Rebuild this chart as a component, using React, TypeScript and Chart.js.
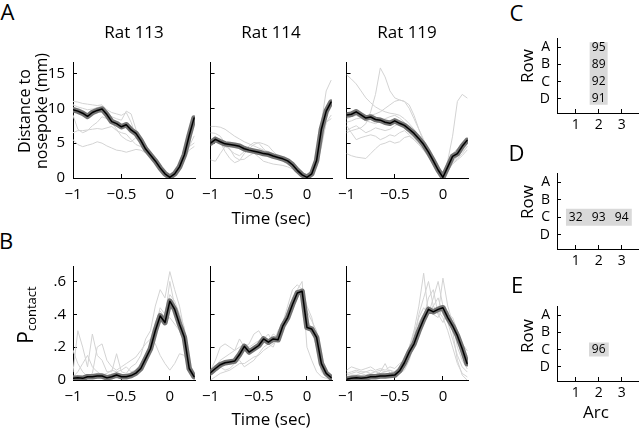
import React, { useEffect, useRef } from "react";
import { Chart, registerables } from "chart.js";

Chart.register(...registerables);

const FONT = "'Open Sans', 'DejaVu Sans', sans-serif";

// ---------- data ----------
const time = [-1, -0.95, -0.9, -0.85, -0.8, -0.75, -0.7, -0.65, -0.6, -0.55, -0.5, -0.45, -0.4, -0.35, -0.3, -0.25, -0.2, -0.15, -0.1, -0.05, 0, 0.05, 0.1, 0.15, 0.2, 0.25];
const timeTicks = [-1, -0.5, 0];
const distTicks = [0, 5, 10, 15];
const probTicks = [0, 0.2, 0.4, 0.6];
const ratNames = ["Rat 113", "Rat 114", "Rat 119"];

const distMean113 = [9.8, 9.6, 9.3, 8.85, 9.4, 9.7, 9.9, 9.1, 8.1, 7.8, 7.35, 7.65, 6.9, 6.4, 5.4, 4.15, 3.3, 2.45, 1.45, 0.6, 0.1, 0.6, 1.6, 3.3, 6.1, 8.6];
const distTrials113 = [
  [11, 10.9, 10.7, 10.6, 10.5, 10.4, 10.5, 9.8, 9.4, 9.2, 9.0, 9.4, 8.0, 6.0, 5.0, 4.2, 3.3, 2.4, 1.5, 0.6, 0.1, 0.6, 1.8, 3.5, 5.5, 8.0],
  [6.5, 6.8, 6.8, 6.9, 7.0, 7.1, 7.0, 7.2, 7.4, 6.8, 6.5, 6.3, 5.5, 4.8, 4.5, 3.8, 3.0, 2.2, 1.3, 0.5, 0.1, 0.7, 1.8, 3.2, 4.5, 5.0],
  [5.5, 4.8, 4.5, 4.7, 4.9, 5.2, 5.0, 4.6, 4.3, 4.0, 3.9, 3.7, 3.9, 4.1, 4.0, 3.6, 3.0, 2.3, 1.4, 0.6, 0.1, 0.6, 1.5, 2.8, 4.0, 4.5],
  [9.0, 7.0, 6.5, 6.8, 7.5, 8.0, 8.8, 8.5, 8.0, 7.0, 6.0, 5.5, 5.2, 5.8, 5.0, 4.0, 3.1, 2.3, 1.4, 0.6, 0.1, 0.8, 2.2, 4.2, 6.5, 8.8],
  [10.5, 10.2, 10.0, 9.8, 9.9, 10.1, 10.3, 9.5, 8.8, 8.5, 8.3, 9.6, 9.2, 7.0, 5.8, 4.5, 3.5, 2.5, 1.5, 0.6, 0.1, 0.5, 1.4, 2.8, 4.5, 6.0],
];

const distMean114 = [5.0, 5.55, 5.2, 4.9, 4.8, 4.7, 4.55, 4.2, 4.0, 3.85, 3.7, 3.5, 3.4, 3.15, 2.95, 2.75, 2.45, 1.9, 1.1, 0.45, 0.1, 0.6, 2.5, 7.0, 9.6, 10.9];
const distTrials114 = [
  [7.4, 7.4, 7.3, 7.0, 6.5, 6.0, 5.6, 5.2, 4.9, 4.6, 4.3, 4.0, 3.8, 3.5, 3.2, 2.9, 2.6, 2.0, 1.2, 0.5, 0.1, 0.8, 3.0, 8.0, 12.5, 14.0],
  [6.5, 6.4, 6.0, 5.0, 4.0, 3.5, 3.2, 3.8, 4.6, 5.1, 5.0, 4.2, 3.5, 3.0, 2.8, 2.4, 2.0, 1.5, 0.9, 0.4, 0.1, 0.6, 2.0, 5.0, 8.0, 9.0],
  [2.6, 2.4, 3.5, 4.5, 4.2, 3.0, 2.6, 2.7, 3.2, 3.6, 3.0, 2.4, 2.2, 2.0, 1.9, 1.8, 1.6, 1.3, 0.8, 0.3, 0.1, 0.5, 1.6, 4.5, 8.0, 8.5],
  [5.5, 6.0, 5.2, 3.8, 2.8, 2.2, 2.5, 3.5, 4.2, 4.8, 5.1, 4.9, 4.6, 3.8, 3.2, 2.6, 2.0, 1.5, 0.9, 0.4, 0.1, 0.8, 2.4, 6.0, 9.5, 10.5],
];

const distMean119 = [9.05, 9.15, 9.5, 9.05, 8.6, 8.75, 8.4, 8.3, 8.0, 7.85, 8.2, 7.85, 7.55, 7.0, 6.4, 5.65, 4.8, 3.7, 2.45, 1.15, 0.1, 1.6, 3.1, 3.5, 4.55, 5.4];
const distTrials119 = [
  [6.5, 6.8, 7.0, 7.2, 7.8, 9.5, 12.0, 15.8, 14.5, 12.5, 11.5, 11.2, 11.0, 10.5, 9.0, 7.0, 5.2, 3.8, 2.4, 1.1, 0.1, 1.5, 3.0, 3.5, 4.5, 5.5],
  [14.8, 14.2, 13.5, 12.5, 11.5, 10.8, 10.2, 9.8, 9.5, 9.3, 9.2, 9.0, 8.5, 7.8, 7.0, 6.0, 4.9, 3.8, 2.6, 1.2, 0.1, 2.5, 6.0, 11.0, 12.0, 11.5],
  [3.5, 3.2, 3.0, 2.9, 2.8, 3.5, 4.2, 4.8, 5.0, 5.3, 5.0, 5.2, 5.8, 6.0, 5.5, 4.8, 4.0, 3.2, 2.2, 1.0, 0.1, 1.2, 2.5, 3.0, 3.8, 4.5],
  [8.0, 8.2, 8.5, 8.6, 8.8, 9.0, 9.2, 9.5, 10.0, 10.5, 11.0, 11.2, 11.0, 10.0, 8.5, 7.0, 5.5, 4.0, 2.6, 1.2, 0.1, 1.0, 2.2, 2.8, 3.5, 4.5],
  [6.8, 7.2, 7.5, 7.0, 6.5, 6.8, 7.2, 7.0, 6.8, 7.0, 7.5, 7.8, 7.2, 6.5, 5.8, 5.0, 4.2, 3.3, 2.2, 1.0, 0.1, 1.8, 3.5, 4.2, 4.8, 5.5],
  [7.5, 6.5, 5.5, 5.8, 6.0, 6.2, 6.0, 5.5, 5.8, 6.2, 6.0, 6.5, 6.8, 6.2, 5.5, 4.8, 4.0, 3.0, 2.0, 0.9, 0.1, 1.0, 2.0, 2.6, 3.2, 4.0],
  [8.5, 8.8, 9.0, 8.6, 8.2, 8.0, 7.8, 8.2, 8.5, 8.8, 9.0, 8.6, 8.0, 7.2, 6.5, 5.8, 5.0, 3.8, 2.5, 1.2, 0.1, 1.5, 3.0, 3.8, 4.5, 5.0],
];

const probMean113 = [0.01, 0.013, 0.01, 0.02, 0.02, 0.024, 0.024, 0.013, 0.02, 0.03, 0.02, 0.02, 0.027, 0.042, 0.07, 0.13, 0.19, 0.3, 0.39, 0.35, 0.48, 0.43, 0.34, 0.26, 0.07, 0.02];
const probTrials113 = [
  [0.05, 0.3, 0.2, 0.08, 0.28, 0.15, 0.12, 0.05, 0.05, 0.16, 0.05, 0.04, 0.08, 0.1, 0.15, 0.25, 0.3, 0.45, 0.55, 0.5, 0.66, 0.55, 0.45, 0.3, 0.1, 0.03],
  [0.18, 0.1, 0.05, 0.02, 0.04, 0.2, 0.22, 0.12, 0.08, 0.06, 0.08, 0.1, 0.12, 0.14, 0.18, 0.22, 0.25, 0.22, 0.15, 0.1, 0.06, 0.1, 0.16, 0.15, 0.08, 0.03],
  [0.02, 0.05, 0.1, 0.15, 0.08, 0.05, 0.03, 0.04, 0.06, 0.05, 0.06, 0.08, 0.05, 0.06, 0.1, 0.15, 0.22, 0.3, 0.38, 0.36, 0.38, 0.34, 0.3, 0.22, 0.08, 0.02],
  [0.01, 0.02, 0.01, 0.03, 0.02, 0.02, 0.03, 0.02, 0.03, 0.04, 0.02, 0.03, 0.02, 0.05, 0.08, 0.14, 0.22, 0.32, 0.44, 0.4, 0.52, 0.48, 0.4, 0.32, 0.08, 0.02],
  [0.0, 0.01, 0.02, 0.01, 0.02, 0.03, 0.02, 0.02, 0.03, 0.02, 0.03, 0.02, 0.04, 0.05, 0.06, 0.12, 0.2, 0.35, 0.42, 0.38, 0.6, 0.45, 0.38, 0.25, 0.05, 0.01],
];

const probMean114 = [0.045, 0.07, 0.093, 0.105, 0.11, 0.115, 0.155, 0.205, 0.17, 0.19, 0.21, 0.25, 0.23, 0.25, 0.245, 0.33, 0.38, 0.46, 0.53, 0.54, 0.32, 0.31, 0.26, 0.1, 0.04, 0.015];
const probTrials114 = [
  [0.06, 0.12, 0.2, 0.22, 0.2, 0.18, 0.25, 0.2, 0.22, 0.28, 0.3, 0.25, 0.28, 0.22, 0.3, 0.35, 0.45, 0.55, 0.58, 0.55, 0.38, 0.3, 0.2, 0.05, 0.02, 0.01],
  [0.0, 0.02, 0.04, 0.05, 0.06, 0.08, 0.1, 0.1, 0.12, 0.14, 0.15, 0.18, 0.2, 0.22, 0.25, 0.3, 0.38, 0.45, 0.52, 0.55, 0.45, 0.38, 0.25, 0.08, 0.02, 0.01],
  [0.03, 0.05, 0.08, 0.06, 0.07, 0.1, 0.12, 0.08, 0.1, 0.12, 0.16, 0.2, 0.22, 0.2, 0.28, 0.34, 0.42, 0.5, 0.55, 0.6, 0.2, 0.12, 0.05, 0.02, 0.01, 0.0],
  [0.05, 0.08, 0.12, 0.14, 0.16, 0.18, 0.2, 0.22, 0.2, 0.22, 0.24, 0.26, 0.24, 0.28, 0.26, 0.32, 0.38, 0.45, 0.5, 0.56, 0.42, 0.36, 0.3, 0.1, 0.03, 0.01],
];

const probMean119 = [0.005, 0.01, 0.013, 0.01, 0.013, 0.02, 0.02, 0.024, 0.024, 0.027, 0.03, 0.056, 0.105, 0.17, 0.22, 0.3, 0.37, 0.43, 0.415, 0.43, 0.44, 0.38, 0.33, 0.27, 0.19, 0.1];
const probTrials119 = [
  [0.02, 0.03, 0.03, 0.04, 0.03, 0.04, 0.03, 0.05, 0.1, 0.04, 0.05, 0.06, 0.12, 0.2, 0.3, 0.45, 0.65, 0.4, 0.5, 0.6, 0.45, 0.35, 0.25, 0.15, 0.08, 0.05],
  [0.04, 0.05, 0.06, 0.05, 0.05, 0.04, 0.05, 0.04, 0.05, 0.06, 0.05, 0.04, 0.08, 0.15, 0.25, 0.4, 0.5, 0.6, 0.45, 0.4, 0.62, 0.45, 0.35, 0.2, 0.12, 0.07],
  [0.0, 0.01, 0.0, 0.01, 0.02, 0.01, 0.02, 0.03, 0.02, 0.03, 0.05, 0.08, 0.1, 0.18, 0.3, 0.35, 0.4, 0.42, 0.45, 0.5, 0.4, 0.35, 0.3, 0.28, 0.2, 0.15],
  [0.06, 0.08, 0.07, 0.06, 0.07, 0.08, 0.06, 0.07, 0.06, 0.08, 0.07, 0.1, 0.12, 0.2, 0.28, 0.38, 0.44, 0.4, 0.45, 0.42, 0.38, 0.3, 0.2, 0.1, 0.04, 0.02],
  [0.01, 0.02, 0.02, 0.01, 0.02, 0.03, 0.02, 0.02, 0.03, 0.02, 0.03, 0.04, 0.06, 0.12, 0.22, 0.3, 0.38, 0.5, 0.55, 0.4, 0.35, 0.42, 0.3, 0.12, 0.03, 0.0],
  [0.03, 0.04, 0.05, 0.04, 0.05, 0.06, 0.05, 0.06, 0.05, 0.06, 0.04, 0.05, 0.08, 0.14, 0.2, 0.32, 0.4, 0.45, 0.4, 0.38, 0.44, 0.4, 0.38, 0.3, 0.22, 0.18],
];

const rowLabels = ["A", "B", "C", "D"];
const rowTicks = [1, 2, 3, 4];
const arcTicks = [1, 2, 3];

const cArcs = [2, 2, 2, 2];
const cRows = ["A", "B", "C", "D"];
const cValues = [95, 89, 92, 91];

const dArcs = [1, 2, 3];
const dRows = ["C", "C", "C"];
const dValues = [32, 93, 94];

const eArcs = [2];
const eRows = ["C"];
const eValues = [96];

// ---------- helpers ----------
const pts = (ys: number[]) => ys.map((y, i) => ({ x: time[i], y }));
const fmtTime = (v: number) => (v < 0 ? "\u2212" + String(Math.abs(v)) : String(v));
const fmtDist = (v: number) => String(v);
const fmtProb = (v: number) => (v === 0 ? "0" : String(v).replace(/^0\./, "."));

const gridOpts = { drawOnChartArea: false, drawTicks: true, tickLength: -4, color: "#000", lineWidth: 1, offset: false };
const borderOpts = { display: true, color: "#000", width: 1 };

type LineProps = {
  left: number; top: number; width: number; height: number; ml: number;
  mean: number[]; trials: number[][]; yMax: number; yTicks: number[];
  yFmt: (v: number) => string; showY: boolean; yPad: number;
};

function LinePanel(p: LineProps) {
  const ref = useRef<HTMLCanvasElement>(null);
  const mt = 6, mr = 6, mb = 30;
  useEffect(() => {
    const datasets: any[] = [
      { data: pts(p.mean), borderColor: "#000", borderWidth: 1.5, order: 0 },
      { data: pts(p.mean), borderColor: "#737373", borderWidth: 5.5, order: 1 },
      ...p.trials.map((t) => ({ data: pts(t), borderColor: "#d3d3d3", borderWidth: 1, order: 2 })),
    ];
    const chart = new Chart(ref.current as HTMLCanvasElement, {
      type: "line",
      data: { datasets },
      options: {
        animation: false,
        responsive: true,
        maintainAspectRatio: false,
        events: [],
        layout: { padding: { left: 0, top: mt, right: mr, bottom: 0 } },
        plugins: { legend: { display: false }, tooltip: { enabled: false } },
        elements: {
          point: { radius: 0 },
          line: { tension: 0, borderJoinStyle: "round", borderCapStyle: "round" },
        },
        scales: {
          x: {
            type: "linear",
            min: -1,
            max: 0.26,
            afterBuildTicks: (s: any) => { s.ticks = timeTicks.map((v) => ({ value: v })); },
            afterFit: (s: any) => { s.height = mb; },
            ticks: {
              callback: (v: any) => fmtTime(Number(v)),
              font: { family: FONT, size: 15 },
              color: "#000",
              padding: 12,
              autoSkip: false,
              maxRotation: 0,
              minRotation: 0,
            },
            grid: gridOpts,
            border: borderOpts,
          },
          y: {
            type: "linear",
            min: 0,
            max: p.yMax,
            afterBuildTicks: (s: any) => { s.ticks = p.yTicks.map((v) => ({ value: v })); },
            afterFit: (s: any) => { s.width = p.ml; },
            ticks: {
              callback: (v: any) => (p.showY ? p.yFmt(Number(v)) : ""),
              font: { family: FONT, size: 15 },
              color: "#000",
              padding: p.yPad,
              autoSkip: false,
            },
            grid: gridOpts,
            border: borderOpts,
          },
        },
      } as any,
    });
    return () => chart.destroy();
  }, []);
  return (
    <div style={{ position: "absolute", left: p.left - p.ml, top: p.top - mt, width: p.width + p.ml + mr, height: p.height + mt + mb }}>
      <canvas ref={ref} />
    </div>
  );
}

type GridProps = {
  left: number; top: number; width: number; height: number;
  arcs: number[]; rows: string[]; values: number[]; thickness: number;
};

function GridPanel(p: GridProps) {
  const ref = useRef<HTMLCanvasElement>(null);
  const ml = 30, mt = 6, mr = 2, mb = 22;
  useEffect(() => {
    const rowNum = p.rows.map((r) => rowLabels.indexOf(r) + 1);
    const vertical = new Set(p.arcs).size === 1 && p.arcs.length > 1;
    let indexAxis: "x" | "y";
    let barData: any[];
    if (vertical) {
      indexAxis = "x";
      barData = [{ x: p.arcs[0], y: [Math.min(...rowNum) - 0.29, Math.max(...rowNum) + 0.35] }];
    } else {
      indexAxis = "y";
      barData = [{ y: rowNum[0], x: [Math.min(...p.arcs) - 0.42, Math.max(...p.arcs) + 0.44] }];
    }
    const cellText = {
      id: "cellText",
      afterDatasetsDraw(chart: any) {
        const { ctx, scales } = chart;
        ctx.save();
        ctx.font = `12px ${FONT}`;
        ctx.fillStyle = "#000";
        ctx.textAlign = "center";
        ctx.textBaseline = "middle";
        p.values.forEach((val, i) => {
          ctx.fillText(String(val), scales.x.getPixelForValue(p.arcs[i]), scales.y.getPixelForValue(rowNum[i]));
        });
        ctx.restore();
      },
    };
    const chart = new Chart(ref.current as HTMLCanvasElement, {
      type: "bar",
      data: {
        datasets: [
          { data: barData, backgroundColor: "#d9d9d9", borderWidth: 0, barThickness: p.thickness, inflateAmount: 0 },
        ],
      },
      plugins: [cellText],
      options: {
        indexAxis,
        animation: false,
        responsive: true,
        maintainAspectRatio: false,
        events: [],
        layout: { padding: { left: 0, top: mt, right: mr, bottom: 0 } },
        plugins: { legend: { display: false }, tooltip: { enabled: false } },
        scales: {
          x: {
            type: "linear",
            min: 0.19,
            max: 3.71,
            offset: false,
            beginAtZero: false,
            afterBuildTicks: (s: any) => { s.ticks = arcTicks.map((v) => ({ value: v })); },
            afterFit: (s: any) => { s.height = mb; },
            ticks: {
              callback: (v: any) => String(v),
              font: { family: FONT, size: 14 },
              color: "#000",
              padding: 8,
              autoSkip: false,
              maxRotation: 0,
            },
            grid: gridOpts,
            border: borderOpts,
          },
          y: {
            type: "linear",
            min: 0.48,
            max: 4.83,
            reverse: true,
            offset: false,
            beginAtZero: false,
            afterBuildTicks: (s: any) => { s.ticks = rowTicks.map((v) => ({ value: v })); },
            afterFit: (s: any) => { s.width = ml; },
            ticks: {
              callback: (v: any) => rowLabels[Number(v) - 1] ?? "",
              font: { family: FONT, size: 14 },
              color: "#000",
              padding: 11,
              autoSkip: false,
            },
            grid: gridOpts,
            border: borderOpts,
          },
        },
      } as any,
    });
    return () => chart.destroy();
  }, []);
  return (
    <div style={{ position: "absolute", left: p.left - ml, top: p.top - mt, width: p.width + ml + mr, height: p.height + mt + mb }}>
      <canvas ref={ref} />
    </div>
  );
}

function Txt(props: { x: number; y: number; size: number; rotate?: boolean; children: React.ReactNode }) {
  return (
    <div
      style={{
        position: "absolute",
        left: props.x,
        top: props.y,
        transform: `translate(-50%, -50%)${props.rotate ? " rotate(-90deg)" : ""}`,
        fontSize: props.size,
        lineHeight: 1,
        whiteSpace: "nowrap",
        fontFamily: FONT,
        color: "#000",
      }}
    >
      {props.children}
    </div>
  );
}

const colLeft = [73, 210, 346];
const plotW = 122;
const rowATop = 47, rowAH = 131;
const rowBTop = 252, rowBH = 128;

export default function App() {
  const distMeans = [distMean113, distMean114, distMean119];
  const distTrials = [distTrials113, distTrials114, distTrials119];
  const probMeans = [probMean113, probMean114, probMean119];
  const probTrials = [probTrials113, probTrials114, probTrials119];
  return (
    <div style={{ position: "absolute", left: 0, top: 0, width: 640, height: 428, background: "#fff", overflow: "hidden" }}>
      {colLeft.map((l, i) => (
        <LinePanel
          key={"a" + i}
          left={l} top={rowATop} width={plotW} height={rowAH}
          ml={i === 0 ? 40 : 20}
          mean={distMeans[i]} trials={distTrials[i]}
          yMax={16.65} yTicks={distTicks} yFmt={fmtDist} showY={i === 0} yPad={12}
        />
      ))}
      {colLeft.map((l, i) => (
        <LinePanel
          key={"b" + i}
          left={l} top={rowBTop} width={plotW} height={rowBH}
          ml={i === 0 ? 40 : 20}
          mean={probMeans[i]} trials={probTrials[i]}
          yMax={0.694} yTicks={probTicks} yFmt={fmtProb} showY={i === 0} yPad={11}
        />
      ))}
      <GridPanel left={557} top={25} width={81} height={88} arcs={cArcs} rows={cRows} values={cValues} thickness={18} />
      <GridPanel left={557} top={160} width={81} height={89} arcs={dArcs} rows={dRows} values={dValues} thickness={17} />
      <GridPanel left={557} top={293} width={81} height={88} arcs={eArcs} rows={eRows} values={eValues} thickness={14} />

      <Txt x={7.5} y={10.5} size={22}>A</Txt>
      <Txt x={6} y={239.5} size={22}>B</Txt>
      <Txt x={516.5} y={11.5} size={22}>C</Txt>
      <Txt x={516.5} y={151.5} size={22}>D</Txt>
      <Txt x={517} y={284} size={22}>E</Txt>

      {ratNames.map((n, i) => (
        <Txt key={n} x={colLeft[i] + plotW / 2} y={30.5} size={17}>{n}</Txt>
      ))}
      <Txt x={colLeft[1] + plotW / 2} y={217} size={17}>Time (sec)</Txt>
      <Txt x={colLeft[1] + plotW / 2} y={418} size={17}>Time (sec)</Txt>

      <Txt x={24} y={111} size={16} rotate>Distance to</Txt>
      <Txt x={41} y={111} size={16} rotate>nosepoke (mm)</Txt>
      <Txt x={25} y={314.5} size={21} rotate>
        P<span style={{ fontSize: 13, position: "relative", top: 3 }}>contact</span>
      </Txt>

      <Txt x={525.5} y={66} size={17} rotate>Row</Txt>
      <Txt x={525.5} y={201.5} size={17} rotate>Row</Txt>
      <Txt x={525.5} y={336} size={17} rotate>Row</Txt>
      <Txt x={596} y={410.5} size={17}>Arc</Txt>
    </div>
  );
}
